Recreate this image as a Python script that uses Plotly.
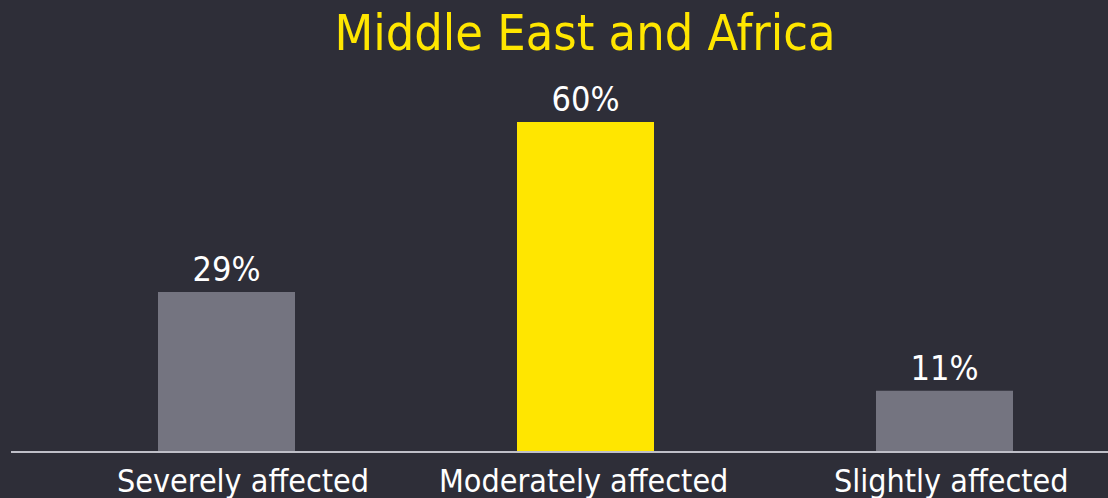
import plotly.graph_objects as go

categories = ["Severely affected", "Moderately affected", "Slightly affected"]
values = [29, 60, 11]
value_labels = ["29%", "60%", "11%"]
bar_colors = ["#747480", "#FFE600", "#747480"]
label_xshift = [16, -2, 7]
title_text = "Middle East and Africa"

BG = "#2E2E38"
FONT = "DejaVu Sans Condensed, DejaVu Sans"

fig = go.Figure(go.Bar(
    x=list(range(len(categories))),
    y=values,
    text=value_labels,
    textposition="outside",
    textfont=dict(color="#FFFFFF", size=34, family=FONT),
    marker=dict(color=bar_colors, line=dict(width=0)),
    width=0.3816,
    cliponaxis=False,
    hoverinfo="skip",
))

for i, cat in enumerate(categories):
    fig.add_annotation(
        x=i, y=0, xref="x", yref="y",
        text=cat, showarrow=False,
        xanchor="center", yanchor="middle",
        xshift=label_xshift[i], yshift=-30,
        font=dict(color="#FFFFFF", size=32, family=FONT),
    )

fig.update_layout(
    width=1108, height=498,
    paper_bgcolor=BG, plot_bgcolor=BG,
    margin=dict(l=11, r=0, t=70, b=47),
    showlegend=False,
    title=dict(
        text=title_text,
        font=dict(color="#FFE600", size=50, family=FONT),
        x=(585 / 1108), xanchor="center", xref="container",
        y=1 - 32 / 498, yanchor="middle", yref="container",
    ),
    xaxis=dict(
        range=[(11 - 226.5) / 359, (1108 - 226.5) / 359],
        tickmode="array",
        tickvals=list(range(len(categories))),
        ticktext=["", "", ""],
        showticklabels=False,
        showgrid=False, zeroline=False,
        showline=True, linecolor="#BFBFC8", linewidth=2,
        ticks="",
        fixedrange=True,
    ),
    yaxis=dict(
        range=[0, 381 / 5.483],
        visible=False,
        showgrid=False, zeroline=False,
        fixedrange=True,
    ),
)

fig.write_html(
    "out.html",
    config={"displayModeBar": False},
    post_script="document.body.style.margin='0';document.body.style.background='#2E2E38';",
)
